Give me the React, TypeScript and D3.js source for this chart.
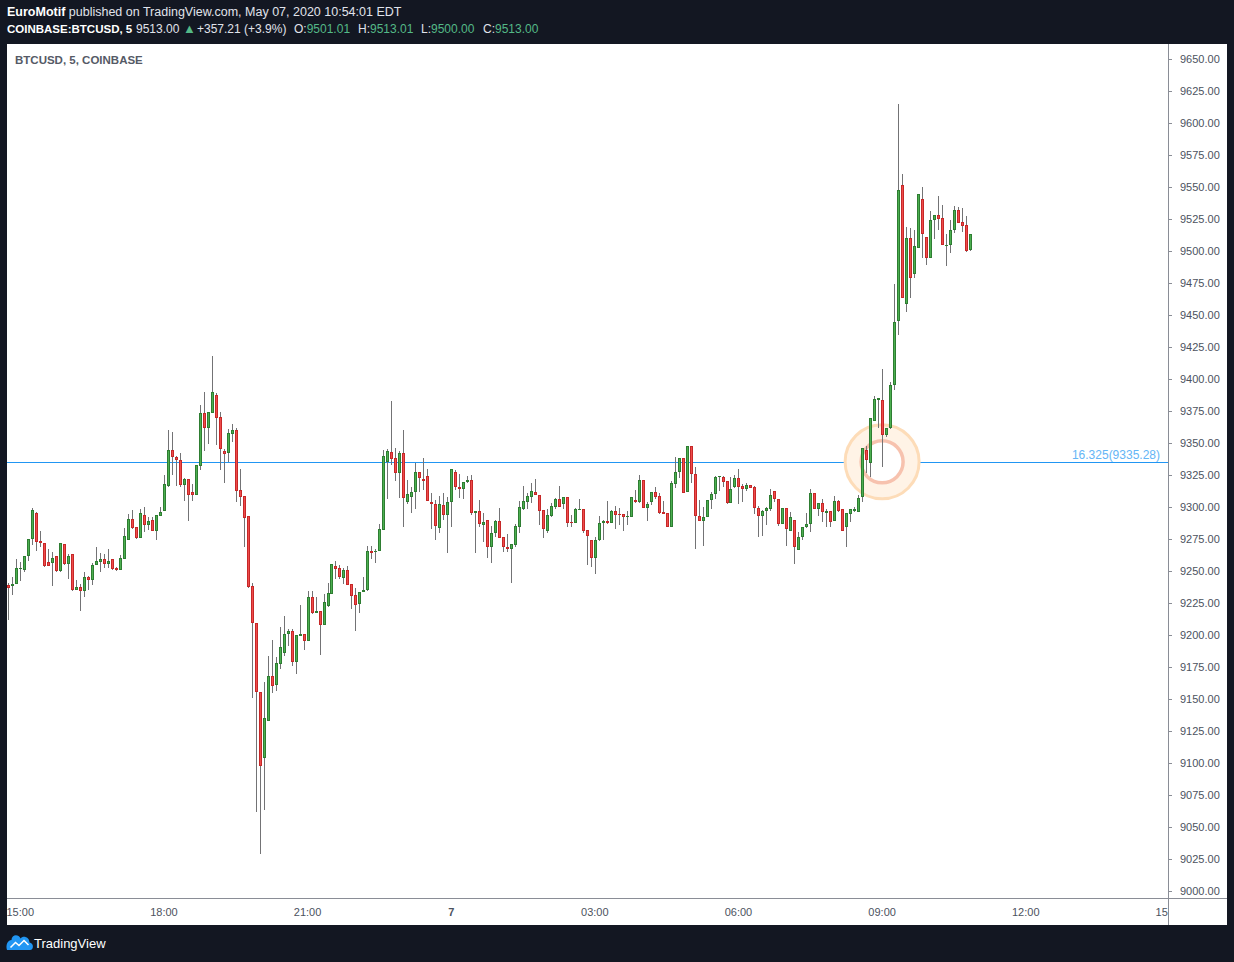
import React from "react";
import * as d3 from "d3";

// ---- data: BTCUSD 5-minute candles, Coinbase, 6 May 14:45 -> 7 May 10:50 ----
const START = new Date(2020, 4, 6, 14, 45);
const BAR_MINUTES = 5;

const opens = [
  9239, 9238, 9240, 9252, 9251, 9262, 9275, 9295, 9273.5, 9272,
  9257, 9256, 9262, 9250, 9271, 9255.5, 9263, 9235.4, 9237.3, 9234.6,
  9245, 9243, 9254.4, 9257, 9259, 9255.7, 9259, 9252.3, 9251, 9259.6,
  9274.5, 9290.6, 9284.4, 9276, 9293.5, 9286.2, 9289.8, 9281.5, 9293.3, 9297,
  9316.6, 9344.5, 9339, 9336.7, 9317.4, 9322, 9311.7, 9309.6, 9332.3, 9373.4,
  9362, 9373.4, 9387.3, 9370.3, 9343.8, 9342.5, 9357.3, 9360, 9313, 9308.4,
  9292.7, 9238.3, 9209.4, 9155.5, 9104, 9132.8, 9168, 9161.2, 9177.6, 9186.2,
  9201, 9203.1, 9179.1, 9199.5, 9200.8, 9195.5, 9229.5, 9217.4, 9218.8, 9207.8,
  9222.9, 9232.3, 9253.6, 9252, 9244.8, 9250.8, 9239.6, 9231.3, 9224, 9233.4,
  9234.9, 9265.6, 9264.6, 9265.4, 9282.3, 9335.4, 9343, 9338, 9326.8, 9342,
  9304.1, 9308, 9311.5, 9327.1, 9321.9, 9323.9, 9303.9, 9302.1, 9283.4, 9301.3,
  9293.5, 9303.7, 9327.1, 9315.4, 9313.8, 9319.3, 9320.9, 9295.1, 9296.9, 9285.7,
  9289.8, 9269, 9279.4, 9289.1, 9276.3, 9268.5, 9267, 9270.6, 9284.6, 9298.4,
  9304.1, 9308, 9311.5, 9309.4, 9297.9, 9281.5, 9293.3, 9300.3, 9306, 9302.1,
  9307.6, 9288.3, 9287.3, 9298.2, 9298.2, 9281.8, 9274, 9260.4, 9274, 9287.5,
  9289.1, 9287.7, 9296.9, 9294.8, 9294.3, 9292.5, 9292.5, 9305.5, 9303.7, 9321.1,
  9299.5, 9303.7, 9311.5, 9308.6, 9296.1, 9295.1, 9284.6, 9318.2, 9327.1, 9338,
  9312, 9347.7, 9325.5, 9293.2, 9289.3, 9291.9, 9305.5, 9310, 9323.2, 9323.4,
  9320.1, 9302.9, 9315.4, 9322.4, 9316.4, 9314.3, 9317.1, 9315.4, 9299, 9293.2,
  9296.6, 9298.4, 9312.5, 9306, 9287, 9299, 9281.5, 9289.6, 9266.6, 9276.3,
  9284.1, 9286.5, 9310.7, 9298.7, 9302.9, 9295.6, 9296.6, 9289.3, 9304.5, 9298.4,
  9284.1, 9294.3, 9297.1, 9296.3, 9308, 9344.5, 9334.1, 9367.4, 9383.6, 9383.6,
  9356.3, 9361.5, 9395.3, 9445.3, 9551.6, 9458.8, 9509.9, 9482.3, 9502.6, 9540.6,
  9511, 9494.8, 9524, 9527.9, 9525.5, 9504.5, 9504.5, 9516.1, 9531.8, 9522.3,
  9520.3, 9501.01,
];

const highs = [
  9241, 9245, 9259, 9257, 9262, 9275, 9299, 9296, 9281, 9272,
  9267, 9265, 9262, 9272, 9271, 9263, 9263, 9243, 9240, 9249,
  9246, 9256, 9269, 9264, 9263, 9267, 9259, 9253, 9262.5, 9283.6,
  9294.5, 9297.7, 9284.4, 9298.4, 9300, 9292.2, 9292.2, 9293.5, 9300, 9325,
  9360, 9358.6, 9339.8, 9342.2, 9323, 9322, 9317.7, 9332.6, 9379.7, 9389.8,
  9374, 9418, 9389.3, 9374.2, 9345.6, 9361, 9364.8, 9361.7, 9329.7, 9308.4,
  9292.7, 9240.4, 9209.4, 9155.5, 9163.3, 9183.6, 9196, 9182.8, 9206.3, 9214.8,
  9204.7, 9204.7, 9199.8, 9223.4, 9200.8, 9234.4, 9234.4, 9230, 9218.8, 9232.3,
  9240.6, 9255.2, 9257.8, 9254.7, 9252.6, 9253.6, 9239.6, 9236.7, 9233.4, 9245.3,
  9269.5, 9269.5, 9266.9, 9286.5, 9344.5, 9345.3, 9382.8, 9346.1, 9343.8, 9360.2,
  9320.9, 9315.4, 9334.6, 9327.1, 9338.3, 9329.7, 9310.7, 9305.2, 9308.6, 9310.9,
  9308, 9329.5, 9328.9, 9325.8, 9319.3, 9324.2, 9325, 9296.9, 9305.2, 9295.1,
  9289.8, 9285.2, 9289.8, 9299.2, 9276.3, 9278.7, 9270.9, 9286.5, 9304.7, 9316.4,
  9311.2, 9318.5, 9321.9, 9309.4, 9297.9, 9298.4, 9302.9, 9306.8, 9316.4, 9307.6,
  9307.6, 9293.8, 9299.5, 9306.3, 9298.2, 9281.8, 9274, 9276.3, 9293, 9289.8,
  9304.7, 9297.7, 9300.8, 9299, 9294.3, 9296.9, 9307.8, 9313.3, 9325, 9321.1,
  9304.1, 9311.5, 9315.6, 9310.7, 9304.7, 9295.1, 9320.1, 9338.8, 9338, 9338,
  9347.7, 9347.7, 9331, 9305.2, 9300, 9305.2, 9312, 9324.5, 9324.2, 9324.2,
  9320.1, 9323.2, 9325, 9329.5, 9317.9, 9318.5, 9317.1, 9316.4, 9300.8, 9297.7,
  9300.3, 9314.1, 9312.5, 9306, 9299, 9299, 9295.9, 9289.6, 9280.7, 9284.1,
  9295.5, 9313.8, 9310.7, 9302.9, 9306, 9298.2, 9296.6, 9308.6, 9305.2, 9298.4,
  9295.1, 9298.2, 9300.3, 9309.4, 9345.9, 9347.7, 9369.3, 9386.7, 9385.2, 9407.6,
  9361.5, 9398, 9474.2, 9614.8, 9560.2, 9518.8, 9517.7, 9516.4, 9544.5, 9550,
  9511, 9531.3, 9527.9, 9543, 9535.9, 9513, 9524.2, 9535.2, 9534.4, 9533.8,
  9527.3, 9513.01,
];

const lows = [
  9212, 9231, 9240, 9242, 9249, 9258, 9270, 9266, 9269, 9253,
  9254, 9238, 9249, 9249.5, 9254.7, 9244, 9234, 9235.4, 9219, 9230,
  9235, 9239, 9254.4, 9249.5, 9252.6, 9252, 9251, 9250.3, 9251, 9259.6,
  9274, 9283, 9275.2, 9276, 9280.7, 9282, 9281.5, 9274.5, 9293.3, 9297,
  9315.4, 9325.2, 9316.2, 9316, 9305, 9289.3, 9305, 9309.6, 9329, 9344,
  9349.5, 9373.4, 9348.7, 9329, 9318.8, 9335, 9350.8, 9304, 9301, 9269,
  9237, 9151, 9061.5, 9028.7, 9063.5, 9132.8, 9155, 9156.5, 9173.7, 9183.8,
  9191.6, 9175.8, 9169.8, 9199.5, 9188.5, 9195.5, 9216.7, 9217.4, 9184.6, 9207.8,
  9222, 9232.3, 9244, 9243.8, 9239.6, 9239.3, 9220.5, 9203.4, 9217.4, 9233.4,
  9234, 9259.6, 9256.5, 9265.4, 9282.3, 9306.5, 9332.8, 9320.5, 9307.3, 9284.1,
  9302.6, 9295.5, 9298.7, 9312, 9313.3, 9304.9, 9283, 9274.5, 9279.9, 9290.1,
  9263.8, 9284.6, 9313.3, 9306.8, 9306, 9319, 9294, 9264.3, 9284.6, 9272.9,
  9259.9, 9256.5, 9276.8, 9275.8, 9265.1, 9265.1, 9240.9, 9269, 9279.4, 9297.7,
  9298.7, 9303.4, 9309.1, 9285.9, 9276, 9279.4, 9292.5, 9298.2, 9299.8, 9298.2,
  9284.1, 9284.1, 9287.3, 9298, 9279.4, 9254.7, 9252.9, 9247.9, 9273.4, 9274.2,
  9286.5, 9287.3, 9282.8, 9285.9, 9281.5, 9285.9, 9292.5, 9303.4, 9302.9, 9299.5,
  9289.3, 9301.6, 9306, 9294.5, 9294.5, 9284.6, 9284.6, 9315, 9322.4, 9311.2,
  9312, 9318.9, 9267.4, 9289.3, 9269.8, 9291.9, 9298.4, 9306, 9312.7, 9315.9,
  9302.3, 9302.9, 9314.6, 9302.1, 9303.9, 9312.7, 9314.5, 9294.3, 9276.8, 9277.6,
  9285.7, 9297.1, 9304.1, 9285.4, 9287, 9269.8, 9281.5, 9255.5, 9266.6, 9274,
  9283.6, 9280.2, 9298.2, 9293.2, 9288.5, 9284.1, 9284.6, 9289.3, 9295.9, 9281.5,
  9269, 9288.5, 9296.1, 9296.3, 9304.1, 9326.3, 9323.7, 9367.4, 9361.5, 9331,
  9355, 9361, 9391.4, 9434.4, 9463.5, 9452.6, 9463.5, 9479.1, 9502.6, 9494.8,
  9489, 9494.8, 9509.4, 9516.7, 9504.5, 9488.5, 9498.7, 9514.3, 9522.1, 9515.1,
  9499.5, 9500,
];

const closes = [
  9237, 9240, 9252, 9252.5, 9262, 9275, 9298, 9273, 9272, 9254,
  9254, 9260, 9250, 9272, 9255.5, 9262, 9235, 9237.3, 9234.6, 9245,
  9243, 9255, 9257.6, 9259.4, 9255.7, 9257.6, 9251.8, 9251, 9260, 9277,
  9290.6, 9283.6, 9276, 9295, 9286.2, 9289, 9281.5, 9293.5, 9296, 9317.7,
  9344.3, 9338.8, 9336.5, 9317.4, 9322, 9309.6, 9309.6, 9332.6, 9373.4, 9362,
  9374, 9389.8, 9369.8, 9345.6, 9341.7, 9357.6, 9360, 9312.7, 9308, 9291.6,
  9237.5, 9209, 9155.2, 9098, 9135.2, 9168, 9160.4, 9178, 9190.4, 9200.8,
  9203.1, 9179.1, 9199.8, 9200.8, 9195.5, 9229.5, 9217.4, 9218.8, 9207.8, 9225.5,
  9232.8, 9255.2, 9251.8, 9245.3, 9250.5, 9239.3, 9230.7, 9223.7, 9233.4, 9235.2,
  9265.4, 9264.3, 9265.9, 9282.6, 9339.6, 9343.5, 9337.7, 9326.8, 9342, 9307.3,
  9309.9, 9311.5, 9327.1, 9322.4, 9320.6, 9304.9, 9302.1, 9284.9, 9302.1, 9293.5,
  9303.7, 9329.5, 9315.4, 9313.8, 9319.3, 9321.1, 9295.1, 9296.9, 9286.5, 9288,
  9269, 9279.4, 9289.1, 9275.8, 9269, 9267.2, 9270.9, 9285.2, 9300, 9304.7,
  9308.6, 9312.5, 9309.1, 9297.1, 9282.6, 9293.8, 9300.8, 9306, 9300.3, 9307.6,
  9287.3, 9287.3, 9298.2, 9298.6, 9281.5, 9277.6, 9260.4, 9274, 9287.5, 9289.1,
  9287.5, 9296.6, 9293.8, 9293.8, 9292.5, 9293, 9307.8, 9303.7, 9321.1, 9299.5,
  9302.3, 9311.5, 9308, 9295.5, 9294.5, 9284.6, 9318.5, 9327.1, 9338, 9311.2,
  9347.7, 9325.5, 9293.2, 9289.3, 9291.9, 9305.2, 9310.2, 9323.4, 9324.2, 9319.8,
  9302.9, 9313.8, 9322.4, 9315.9, 9314.3, 9317.1, 9315.2, 9299, 9293.2, 9296.9,
  9299, 9309.4, 9306, 9287, 9299, 9283, 9291.9, 9269, 9276.3, 9284.1,
  9286.7, 9310.7, 9298.7, 9302.9, 9296.3, 9296.6, 9288.5, 9304.5, 9297.1, 9281.5,
  9295.1, 9298.2, 9298.2, 9306.8, 9345.9, 9336.7, 9369.3, 9384.1, 9385.2, 9356.3,
  9361.5, 9395.3, 9444.8, 9547.7, 9463.5, 9509.9, 9479.1, 9503.9, 9544.5, 9513.1,
  9494.8, 9524, 9527.9, 9525.2, 9504.5, 9504.8, 9516.4, 9531.8, 9522.1, 9519.8,
  9500, 9513,
];

const priceTicks = d3.range(9000, 9651, 25);
const LEVEL_PRICE = 9335.28;
const LEVEL_LABEL = "16.325(9335.28)";
const MARK_TIME = new Date(2020, 4, 7, 9, 0);
const CHANGE_TEXT = "+357.21 (+3.9%)";

// ---- layout ----
const W = 1234;
const H = 962;
const PLOT = { left: 7, right: 1168, top: 44, bottom: 898 };
const PANEL_RIGHT = 1227;
const PANEL_BOTTOM = 925;

const FONT = "'Liberation Sans', Arial, sans-serif";
const BG = "#131722";
const AXIS_TEXT = "#4c525e";
const UP_FILL = "#4caf50";
const UP_EDGE = "#2e7d32";
const DN_FILL = "#ef4b4b";
const DN_EDGE = "#c62828";
const WICK = "#737375";
const TEAL = "#53b987";

export default function App() {
  const n = opens.length;
  const times = d3.range(n).map((i) => d3.timeMinute.offset(START, i * BAR_MINUTES));
  const BAR_PX = 3.99;
  const x = d3
    .scaleTime()
    .domain([times[0], times[n - 1]])
    .range([8.3, 8.3 + (n - 1) * BAR_PX]);
  const y = d3.scaleLinear().domain([9000, 9650]).range([891, 59]);

  const timeTicks = d3.timeHour.every(3)!.range(START, x.invert(1200));
  const fmtHM = d3.timeFormat("%H:%M");
  const fmtD = d3.timeFormat("%-d");
  const fmt2 = d3.format(".2f");

  const levelY = Math.round(y(LEVEL_PRICE)) + 0.5;
  const markX = x(MARK_TIME);

  return (
    <div style={{ position: "absolute", left: 0, top: 0 }}>
      <svg width={W} height={H} style={{ display: "block" }} fontFamily={FONT}>
        <defs>
          <clipPath id="plotclip">
            <rect x={PLOT.left} y={PLOT.top} width={PLOT.right - PLOT.left} height={PLOT.bottom - PLOT.top} />
          </clipPath>
          <clipPath id="timeclip">
            <rect x={PLOT.left} y={PLOT.bottom} width={PLOT.right - PLOT.left} height={PANEL_BOTTOM - PLOT.bottom} />
          </clipPath>
        </defs>
        <rect x={0} y={0} width={W} height={H} fill={BG} />

        {/* header */}
        <text x={7} y={16} fontSize={12.5} fill="#e0e3eb">
          <tspan fontWeight="bold" fill="#ffffff">EuroMotif</tspan>
          <tspan> published on TradingView.com, May 07, 2020 10:54:01 EDT</tspan>
        </text>
        <text y={33} fontSize={12} fill="#e0e3eb">
          <tspan x={7} fontWeight="bold" fill="#ffffff" fontSize={11.5}>COINBASE:BTCUSD, 5</tspan>
          <tspan x={136}>{fmt2(closes[n - 1])}</tspan>
          <tspan x={183} fill={TEAL} fontSize={13}>▲</tspan>
          <tspan x={197}>{CHANGE_TEXT}</tspan>
          <tspan x={294}>O:</tspan>
          <tspan fill={TEAL}>{fmt2(opens[n - 1])}</tspan>
          <tspan x={358}>H:</tspan>
          <tspan fill={TEAL}>{fmt2(highs[n - 1])}</tspan>
          <tspan x={421}>L:</tspan>
          <tspan fill={TEAL}>{fmt2(lows[n - 1])}</tspan>
          <tspan x={483}>C:</tspan>
          <tspan fill={TEAL}>{fmt2(closes[n - 1])}</tspan>
        </text>

        {/* white panel */}
        <rect x={PLOT.left} y={PLOT.top} width={PANEL_RIGHT - PLOT.left} height={PANEL_BOTTOM - PLOT.top} fill="#ffffff" />
        <line x1={PLOT.right + 0.5} x2={PLOT.right + 0.5} y1={PLOT.top} y2={PANEL_BOTTOM} stroke="#8a8d96" strokeWidth={1} />
        <line x1={PLOT.left} x2={PANEL_RIGHT} y1={PLOT.bottom + 0.5} y2={PLOT.bottom + 0.5} stroke="#8a8d96" strokeWidth={1} />

        {/* price axis */}
        {priceTicks.map((p) => (
          <g key={p}>
            <line x1={PLOT.right} x2={PLOT.right + 4} y1={Math.round(y(p)) + 0.5} y2={Math.round(y(p)) + 0.5} stroke="#8a8d96" />
            <text x={1180} y={y(p)} dy="0.35em" fontSize={11} fill={AXIS_TEXT}>
              {fmt2(p)}
            </text>
          </g>
        ))}

        {/* time axis */}
        <g clipPath="url(#timeclip)">
          {timeTicks.map((t) => {
            const isDay = t.getHours() === 0;
            return (
              <text
                key={t.getTime()}
                x={x(t)}
                y={916}
                textAnchor="middle"
                fontSize={11}
                fontWeight={isDay ? "bold" : "normal"}
                fill={AXIS_TEXT}
              >
                {isDay ? fmtD(t) : fmtHM(t)}
              </text>
            );
          })}
        </g>

        {/* plot */}
        <g clipPath="url(#plotclip)">
          <text x={15} y={64} fontSize={11.5} fontWeight="bold" fill="#555a66">
            BTCUSD, 5, COINBASE
          </text>
          <line x1={PLOT.left} x2={PLOT.right} y1={levelY} y2={levelY} stroke="#2196f3" strokeWidth={1} />
          <text x={1160} y={levelY - 4} textAnchor="end" fontSize={12} fill="#64b5f6">
            {LEVEL_LABEL}
          </text>

          {/* annotation circle */}
          <circle cx={markX} cy={y(LEVEL_PRICE)} r={37} fill="#fff3e6" stroke="#fddcb8" strokeWidth={3} />
          <circle cx={markX} cy={y(LEVEL_PRICE)} r={21} fill="#ffffff" stroke="#f7c2ae" strokeWidth={3.5} />

          {opens.map((o, i) => {
            const c = closes[i];
            const up = c >= o;
            const cx = Math.round(x(times[i]));
            const yTop = Math.round(y(Math.max(o, c)));
            const yBot = Math.round(y(Math.min(o, c)));
            const bh = Math.max(yBot - yTop, 1);
            const yh = Math.round(y(highs[i]));
            const yl = Math.round(y(lows[i]));
            return (
              <g key={i}>
                <rect x={cx} y={yh} width={1} height={Math.max(yl - yh, 1)} fill={WICK} />
                <rect x={cx - 1} y={yTop} width={3} height={bh} fill={up ? UP_EDGE : DN_EDGE} />
                {bh > 2 && (
                  <rect x={cx} y={yTop + 1} width={1} height={bh - 2} fill={up ? UP_FILL : DN_FILL} />
                )}
              </g>
            );
          })}
        </g>

        {/* footer logo */}
        <g>
          <path
            d="M7,950 L30,950 C34,950 34,943 29.5,942.5 C29.5,937 23,935 20.5,938.5 C18.5,933.5 11.5,934.5 11.5,940 C7.5,940.5 5.5,945 7,950 Z"
            fill="#2196f3"
          />
          <path d="M10.5,947.5 L15.5,942.5 L19,945.5 L24,940.5 L28.5,945" fill="none" stroke="#ffffff" strokeWidth={1.5} />
          <text x={34} y={947.5} fontSize={13} fill="#ffffff">
            TradingView
          </text>
        </g>
      </svg>
    </div>
  );
}
